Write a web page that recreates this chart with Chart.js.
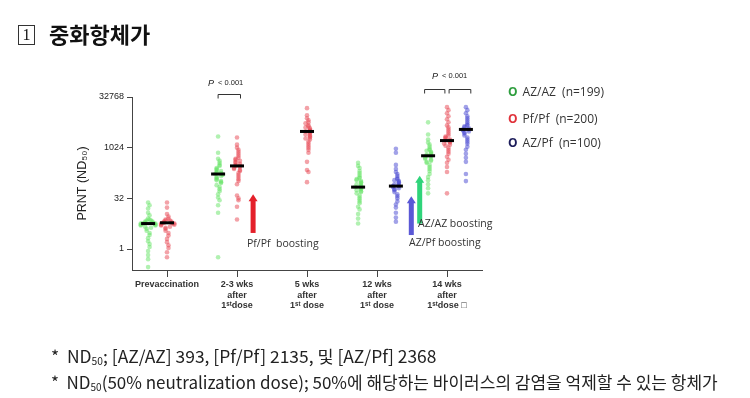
<!DOCTYPE html>
<html>
<head>
<meta charset="utf-8">
<script src="https://cdn.jsdelivr.net/npm/chart.js@4"></script>
<style>
  body { margin: 0; background: #fff; width: 750px; height: 398px; position: relative; overflow: hidden; }
  #chart { position: absolute; left: 0; top: 0; }
  .title { position: absolute; left: 18px; top: 17px; font-family: "Noto Sans CJK KR", sans-serif; font-weight: 700; font-size: 22px; color: #111; }
  .title .box { display: inline-block; width: 15px; height: 18px; border: 1px solid #333; font: 16px "Liberation Serif", serif; line-height: 18px; text-align: center; margin-right: 14px; vertical-align: 3px; font-weight: 400; }
  .legend { position: absolute; left: 508px; font-family: "Open Sans", sans-serif; font-size: 12px; color: #333; }
  .legend b { margin-right: 5px; }
  .note { position: absolute; left: 51px; font-family: "Liberation Sans Narrow", "Noto Sans CJK KR", sans-serif; font-size: 17px; color: #222; white-space: nowrap; transform-origin: 0 50%; }
  .note sub { font-size: 10px; vertical-align: -2px; }
</style>
</head>
<body>
<canvas id="chart" width="750" height="398"></canvas>
<div class="title"><span class="box">1</span>중화항체가</div>
<div class="legend" style="top:83px"><b style="color:#2e9e3e">O</b>AZ/AZ&nbsp; (n=199)</div>
<div class="legend" style="top:110px"><b style="color:#e0323a">O</b>Pf/Pf&nbsp; (n=200)</div>
<div class="legend" style="top:134px"><b style="color:#1c1c5a">O</b>AZ/Pf&nbsp; (n=100)</div>
<div class="note" id="n1" style="top:343px">*&nbsp; ND<sub>50</sub>; [AZ/AZ] 393, [Pf/Pf] 2135, 및 [AZ/Pf] 2368</div>
<div class="note" id="n2" style="top:369px">*&nbsp; ND<sub>50</sub>(50% neutralization dose); 50%에 해당하는 바이러스의 감염을 억제할 수 있는 항체가</div>
<script>
const categories = [
  'Prevaccination',
  ['2-3 wks', 'after', '1ˢᵗdose'],
  ['5 wks', 'after', '1ˢᵗ dose'],
  ['12 wks', 'after', '1ˢᵗ dose'],
  ['14 wks', 'after', '1ˢᵗdose □']
];
const yTicks = [1, 32, 1024, 32768];

// PRNT titers (ND50) read per strip
const azazPre = [24, 20, 16, 12, 10, 8, 7.5, 7, 7, 6.5, 6.5, 6, 6, 5.7, 5.7, 5.7, 5.7, 5.7, 5.3, 5.3, 5, 5, 4.6, 4.3, 4, 3.5, 3, 2.6, 2.1, 1.7, 1.4, 1.15, 0.87, 0.66, 0.5, 0.29];
const azazWk2 = [2195, 724, 478, 416, 362, 315, 294, 256, 239, 223, 208, 194, 181, 181, 169, 169, 158, 147, 137, 128, 119, 111, 104, 97, 91, 79, 69, 60, 52, 42, 34, 28, 20, 12, 0.57];
const azazWk12 = [362, 294, 256, 208, 181, 158, 137, 128, 119, 111, 104, 97, 91, 84, 79, 74, 69, 69, 64, 60, 56, 52, 49, 45, 39, 34, 30, 26, 23, 18, 15, 11, 8, 5.7];
const azazWk14 = [5793, 2521, 1783, 1448, 1261, 1098, 955, 891, 832, 776, 724, 676, 630, 588, 588, 549, 512, 478, 446, 416, 388, 362, 315, 274, 239, 208, 169, 137, 111, 84, 64, 45];

const pfpfPre = [24, 17, 11, 9.2, 8, 7.5, 7, 7, 6.5, 6.5, 6, 6, 6, 5.7, 5.7, 5.7, 5.3, 5.3, 5, 4.6, 4.3, 4, 3.5, 3, 2.5, 2, 1.6, 1.3, 1.07, 0.8, 0.57];
const pfpfWk2 = [2048, 1261, 1024, 891, 776, 676, 588, 512, 478, 446, 416, 388, 362, 338, 315, 294, 294, 274, 256, 239, 223, 208, 181, 158, 137, 119, 104, 84, 39, 32, 28, 18, 7.5];
const pfpfWk5 = [15287, 9410, 7643, 6654, 5793, 5405, 4705, 4390, 4096, 3822, 3566, 3327, 3104, 3104, 2896, 2702, 2521, 2353, 2195, 2048, 1911, 1783, 1552, 1351, 1176, 1024, 891, 724, 388, 223, 194, 97];
const pfpfWk14 = [16384, 13308, 10809, 8780, 7131, 5793, 4705, 4096, 3566, 3104, 2702, 2353, 2195, 2048, 1911, 1783, 1663, 1663, 1552, 1448, 1351, 1261, 1176, 1024, 891, 776, 676, 549, 446, 362, 274, 194, 45];

const azpfWk12 = [955, 724, 315, 239, 194, 169, 147, 128, 119, 111, 104, 97, 91, 84, 79, 74, 74, 69, 64, 60, 56, 49, 42, 37, 32, 26, 21, 17, 12, 8.6, 6.5];
const azpfWk14 = [16384, 13308, 10809, 8780, 7643, 6654, 5793, 5043, 4705, 4390, 4096, 3822, 3566, 3566, 3327, 3104, 2896, 2702, 2353, 2048, 1783, 1552, 1351, 1098, 891, 676, 512, 388, 169, 104];

const medianAZAZ = [5.7, 169, null, 69, 588];
const medianPfPf = [6, 294, 3104, null, 1663];
const medianAZPf = [null, null, null, 74, 3566];

const groupShift = { azaz: -0.27, pfpf: 0, azpf: 0.27 };

// spread points sideways where values crowd (beeswarm-ish)
function swarm(values, center) {
  const placed = [];
  return values.map(v => {
    const l = Math.log2(v);
    const k = placed.filter(p => Math.abs(p - l) < 0.3).length;
    placed.push(l);
    const off = k === 0 ? 0 : (k % 2 ? 1 : -1) * Math.ceil(k / 2) * 0.021;
    return { x: center + off, y: v };
  });
}

function strips(list, shift) {
  let pts = [];
  list.forEach(([cat, vals]) => { pts = pts.concat(swarm(vals, cat + shift)); });
  return pts;
}

function medians(arr, shift) {
  return arr.map((v, i) => v == null ? null : { x: i + shift, y: v }).filter(Boolean);
}

const dotStyle = fill => ({
  backgroundColor: fill, borderColor: fill, borderWidth: 0, pointRadius: 2.3, pointHoverRadius: 2.3, order: 1
});

const annotations = {
  id: 'annotations',
  afterDraw(chart) {
    const { ctx, scales: { x, y } } = chart;
    ctx.save();
    const arrow = (cx, y0, y1, color) => {
      const px = x.getPixelForValue(cx), p0 = y.getPixelForValue(y0), p1 = y.getPixelForValue(y1);
      ctx.fillStyle = color;
      ctx.fillRect(px - 2.5, p1 + 6, 5, p0 - p1 - 6);
      ctx.beginPath();
      ctx.moveTo(px - 4.5, p1 + 7); ctx.lineTo(px + 4.5, p1 + 7); ctx.lineTo(px, p1); ctx.closePath();
      ctx.fill();
    };
    arrow(1.23, 3, 42, '#e4202a');
    arrow(3.49, 2.6, 37, '#5a58d6');
    arrow(3.61, 5.7, 150, '#2fd47a');

    ctx.font = '10.5px "Open Sans", sans-serif';
    ctx.fillStyle = '#333';
    ctx.textBaseline = 'middle';
    ctx.fillText('Pf/Pf  boosting', 247, 244);
    ctx.fillText('AZ/AZ boosting', 418, 224);
    ctx.fillText('AZ/Pf boosting', 409, 243);

    const pLabel = (left, ty) => {
      ctx.fillStyle = '#222';
      ctx.font = 'italic 9px "Liberation Sans", sans-serif';
      ctx.fillText('P', left, ty);
      ctx.font = '7.5px "Liberation Sans", sans-serif';
      ctx.fillText('< 0.001', left + 10, ty);
    };
    const bracket = (a, b, by) => {
      const xa = x.getPixelForValue(a), xb = x.getPixelForValue(b);
      ctx.strokeStyle = '#333'; ctx.lineWidth = 1;
      ctx.beginPath();
      ctx.moveTo(xa, by + 4); ctx.lineTo(xa, by); ctx.lineTo(xb, by); ctx.lineTo(xb, by + 4);
      ctx.stroke();
    };
    pLabel(208, 83);
    bracket(0.73, 1.05, 94.5);
    pLabel(432, 76);
    bracket(3.68, 3.97, 89.5);
    bracket(4.03, 4.34, 89.5);
    ctx.restore();
  }
};

new Chart(document.getElementById('chart'), {
  type: 'scatter',
  data: {
    datasets: [
      { data: strips([[0, azazPre], [1, azazWk2], [3, azazWk12], [4, azazWk14]], groupShift.azaz), ...dotStyle('rgba(100,228,100,0.5)') },
      { data: strips([[0, pfpfPre], [1, pfpfWk2], [2, pfpfWk5], [4, pfpfWk14]], groupShift.pfpf), ...dotStyle('rgba(232,70,82,0.5)') },
      { data: strips([[3, azpfWk12], [4, azpfWk14]], groupShift.azpf), ...dotStyle('rgba(70,70,210,0.5)') },
      {
        data: [...medians(medianAZAZ, groupShift.azaz), ...medians(medianPfPf, groupShift.pfpf), ...medians(medianAZPf, groupShift.azpf)],
        pointStyle: 'line', pointRadius: 7, pointHoverRadius: 7, borderWidth: 3, borderColor: '#000', backgroundColor: '#000',
        order: -1
      }
    ]
  },
  options: {
    responsive: false,
    animation: false,
    events: [],
    layout: { padding: { left: 75, right: 268, top: 97, bottom: 68 } },
    plugins: { legend: { display: false }, tooltip: { enabled: false } },
    scales: {
      x: {
        type: 'linear',
        min: -0.5,
        max: 4.5,
        afterBuildTicks: s => { s.ticks = categories.map((c, i) => ({ value: i })); },
        afterFit: s => { s.height = 60; },
        ticks: {
          callback: v => categories[v],
          color: '#333',
          font: { family: 'Liberation Sans', size: 9, weight: 'bold', lineHeight: 1.2 },
          padding: 2,
          maxRotation: 0,
          autoSkip: false
        },
        grid: { drawOnChartArea: false, drawTicks: true, tickLength: 7, color: '#444' },
        border: { display: true, color: '#444', width: 1 }
      },
      y: {
        type: 'logarithmic',
        min: 0.238,
        max: 32768,
        afterBuildTicks: s => { s.ticks = yTicks.map(v => ({ value: v })); },
        afterFit: s => { s.width = 57; },
        ticks: {
          callback: v => String(v),
          color: '#222',
          font: { family: 'Liberation Sans', size: 9 },
          padding: 3
        },
        grid: { drawOnChartArea: false, drawTicks: true, tickLength: 5, color: '#444' },
        border: { display: true, color: '#444', width: 1 },
        title: {
          display: true,
          text: 'PRNT (ND₅₀)',
          color: '#222',
          font: { family: 'Liberation Sans', size: 12.5 },
          padding: { top: 0, bottom: 2 }
        }
      }
    }
  },
  plugins: [annotations]
});

// squeeze footnote lines to the width they take in the slide
[['n1', 386], ['n2', 667]].forEach(([id, w]) => {
  const el = document.getElementById(id);
  el.style.transform = 'scaleX(' + (w / el.offsetWidth) + ')';
});
</script>
</body>
</html>
